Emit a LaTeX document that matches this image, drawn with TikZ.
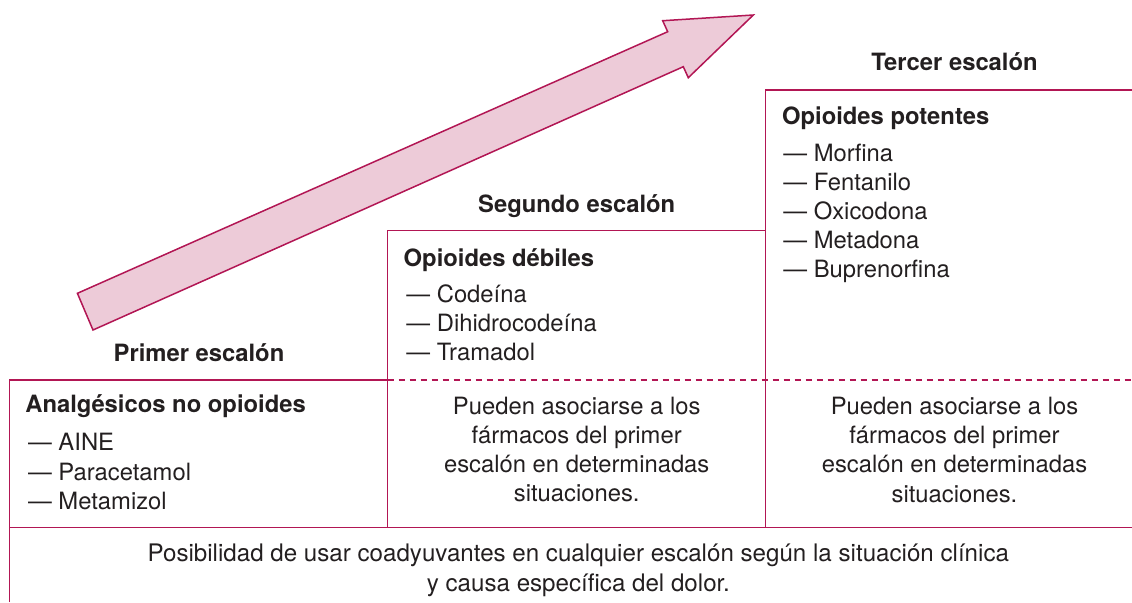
\documentclass[tikz,border=0pt]{standalone}
\usepackage{fontspec}
\setmainfont{TeX Gyre Heros}
\usepackage{tikz}
\usetikzlibrary{positioning}
\definecolor{escalon}{RGB}{178,22,84}
\definecolor{flecha}{RGB}{237,203,216}
\definecolor{texto}{RGB}{35,31,32}
\newcommand{\cuerpo}{\fontsize{11.9}{14.65}\selectfont}

\begin{document}
\begin{tikzpicture}[x=0.5pt, y=-0.5pt,
		linea/.style={draw=escalon, line width=0.75pt},
		corte/.style={draw=escalon, line width=0.75pt, dash pattern=on 3pt off 2.5pt},
		titulo/.style={anchor=base, inner sep=0pt, text=texto, font=\cuerpo\bfseries},
		cabeza/.style={anchor=base west, inner sep=0pt, text=texto, font=\cuerpo\bfseries},
		item/.style={anchor=base west, inner sep=0pt, text=texto, font=\cuerpo},
		nota/.style={anchor=base, inner sep=0pt, text=texto, font=\cuerpo}]
				\useasboundingbox (0,0) rectangle (1132,602);

				% escalones
				\coordinate (p1) at (9.5,602);
				\coordinate (p2) at (9.5,380);
				\coordinate (p3) at (387.5,380);
				\coordinate (p4) at (387.5,230.7);
				\coordinate (p5) at (765.7,230.7);
				\coordinate (p6) at (765.7,90);
				\coordinate (p7) at (1132,90);
				\coordinate (b2) at (387.5,527.7);
				\coordinate (b3) at (765.7,527.7);
				\coordinate (q1) at (9.5,527.7);
				\coordinate (q2) at (1132,527.7);
				\coordinate (d2) at (1132,380);

				\draw[linea] (p1) -- (p2) -- (p3) -- (p4) -- (p5) -- (p6) -- (p7);
				\draw[linea] (p3) -- (b2);
				\draw[linea] (p6) -- (b3);
				\draw[linea] (q1) -- (q2);
				\draw[corte] (p3) -- (d2);

				% flecha
				\draw[linea, fill=flecha, line join=miter] (77.4,293.3) -- (667.7,31.7) -- (662.7,20.7) -- (753.3,15)
					-- (688.3,77.7) -- (683.3,66.7) -- (93,330) -- cycle;

				% titulos
				\node[titulo] (prim) at (199,361) {Primer escalón};
				\node[titulo] (seg) at (576.7,212.7) {Segundo escalón};
				\node[titulo] (ter) at (954.5,70.7) {Tercer escalón};

				% primer escalon
				\node[cabeza] (h1) at (25,412.7) {Analgésicos no opioides};
				\node[item] (aine) at (27.7,450) {— AINE};
				\node[item] (para) at (27.7,480) {— Paracetamol};
				\node[item] (metz) at (27.7,509.3) {— Metamizol};

				% segundo escalon
				\node[cabeza] (h2) at (403.3,266) {Opioides débiles};
				\node[item] (code) at (406,302) {— Codeína};
				\node[item] (dihi) at (406,331) {— Dihidrocodeína};
				\node[item] (tram) at (406,360.3) {— Tramadol};
				\node[nota] (n21) at (576.7,414) {Pueden asociarse a los};
				\node[nota] (n22) at (576.7,443.3) {fármacos del primer};
				\node[nota] (n23) at (576.7,472.3) {escalón en determinadas};
				\node[nota] (n24) at (576.7,501.7) {situaciones.};

				% tercer escalon
				\node[cabeza] (h3) at (781.7,124) {Opioides potentes};
				\node[item] (morf) at (783,161) {— Morfina};
				\node[item] (fent) at (783,190) {— Fentanilo};
				\node[item] (oxic) at (783,219.3) {— Oxicodona};
				\node[item] (metd) at (783,248.7) {— Metadona};
				\node[item] (bupr) at (783,277.7) {— Buprenorfina};
				\node[nota] (n31) at (954.5,414.3) {Pueden asociarse a los};
				\node[nota] (n32) at (954.5,443.6) {fármacos del primer};
				\node[nota] (n33) at (954.5,472.6) {escalón en determinadas};
				\node[nota] (n34) at (954.5,502) {situaciones.};

				% coadyuvantes
				\node[nota, font=\fontsize{12.07}{14.65}\selectfont] (c1) at (578.3,561.7) {Posibilidad de usar coadyuvantes en cualquier escalón según la situación clínica};
				\node[nota, font=\fontsize{12.07}{14.65}\selectfont] (c2) at (578.3,591.7) {y causa específica del dolor.};
			\end{tikzpicture}
\end{document}
